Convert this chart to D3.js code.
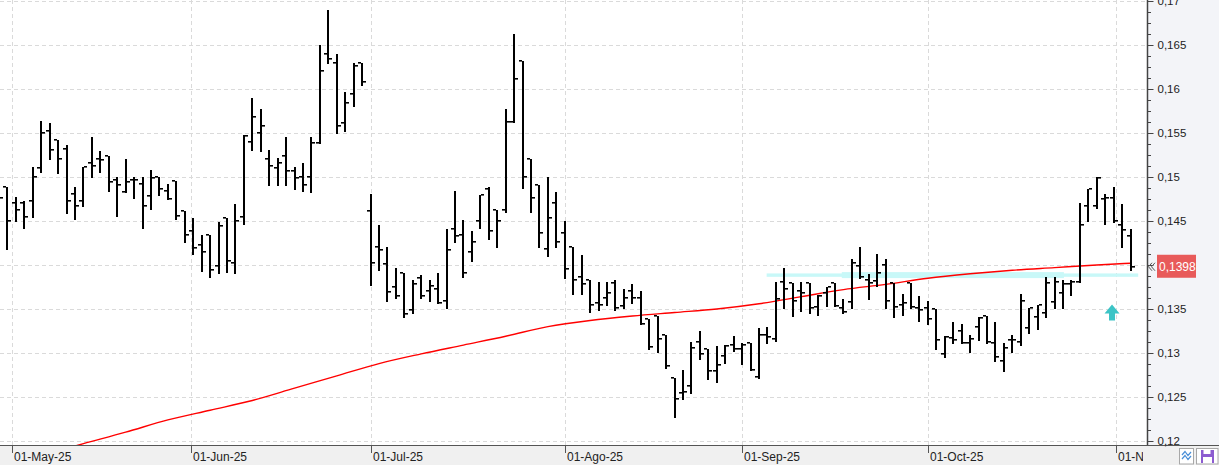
<!DOCTYPE html>
<html>
<head>
<meta charset="utf-8">
<script src="https://cdn.jsdelivr.net/npm/d3@7"></script>
<style>
  body { margin: 0; background: #fff; overflow: hidden; }
  svg { display: block; font-family: "Liberation Sans", Arial, sans-serif; }
</style>
</head>
<body>
<svg width="1219" height="465"></svg>
<script>
// daily OHLC, index 0 = 29-Apr-25 ... index 134 = 04-Nov-25
const opens = [
  .1470,.1489,.1471,.1471,.1473,.1510,.1552,.1542,.1532,.1481,.1473,.1516,.1520,.1524,.1497,.1483,.1497,.1492,.1478,.1500,
  .1484,.1495,.1461,.1439,.1423,.1434,.1399,.1453,.1402,.1455,.1540,.1550,.1520,.1510,.1524,.1507,.1500,.1500,.1539,.1640,
  .1629,.1561,.1594,.1630,.1461,.1420,.1401,.1375,.1391,.1349,.1385,.1370,.1373,.1359,.1441,.1434,.1415,.1450,.1486,.1463,
  .1462,.1563,.1632,.1521,.1491,.1418,.1471,.1436,.1420,.1386,.1383,.1357,.1363,.1380,.1353,.1370,.1363,.1339,.1342,.1320,
  .1272,.1254,.1262,.1312,.1305,.1280,.1297,.1309,.1305,.1311,.1273,.1320,.1316,.1381,.1380,.1371,.1379,.1352,.1368,.1379,
  .1351,.1358,.1399,.1383,.1382,.1400,.1379,.1355,.1379,.1351,.1351,.1350,.1299,.1317,.1325,.1311,.1330,.1342,.1311,.1291,
  .1315,.1313,.1328,.1341,.1346,.1358,.1368,.1378,.1381,.1467,.1467,.1475,.1476,.1445,.1433
];
const highs = [
  .1485,.1489,.1477,.1473,.1511,.1564,.1561,.1542,.1536,.1489,.1511,.1545,.1529,.1524,.1500,.1521,.1500,.1500,.1508,.1500,
  .1492,.1495,.1461,.1453,.1434,.1434,.1449,.1453,.1469,.1548,.1590,.1577,.1531,.1522,.1545,.1511,.1516,.1545,.1650,.1690,
  .1640,.1597,.1630,.1630,.1481,.1445,.1421,.1397,.1391,.1383,.1389,.1383,.1391,.1441,.1484,.1451,.1439,.1479,.1489,.1463,
  .1577,.1662,.1632,.1521,.1491,.1500,.1483,.1450,.1420,.1411,.1383,.1381,.1381,.1383,.1373,.1378,.1370,.1339,.1342,.1320,
  .1272,.1281,.1312,.1325,.1305,.1308,.1309,.1319,.1311,.1311,.1328,.1330,.1381,.1397,.1380,.1381,.1379,.1366,.1375,.1379,
  .1361,.1407,.1420,.1390,.1413,.1407,.1379,.1367,.1379,.1365,.1359,.1350,.1319,.1335,.1333,.1320,.1341,.1342,.1335,.1311,
  .1320,.1367,.1351,.1355,.1386,.1386,.1383,.1383,.1470,.1486,.1500,.1481,.1489,.1469,.1441
];
const lows = [
  .1465,.1418,.1450,.1442,.1454,.1506,.1520,.1504,.1459,.1452,.1467,.1500,.1506,.1484,.1456,.1483,.1476,.1442,.1464,.1480,
  .1475,.1452,.1426,.1412,.1393,.1386,.1391,.1392,.1391,.1447,.1531,.1530,.1491,.1491,.1491,.1486,.1484,.1483,.1539,.1630,
  .1550,.1552,.1581,.1604,.1377,.1394,.1359,.1363,.1341,.1345,.1362,.1359,.1357,.1351,.1426,.1386,.1404,.1442,.1430,.1420,
  .1460,.1563,.1488,.1460,.1420,.1410,.1420,.1385,.1367,.1367,.1347,.1349,.1354,.1349,.1351,.1357,.1333,.1304,.1301,.1283,
  .1227,.1248,.1255,.1293,.1271,.1267,.1289,.1302,.1287,.1281,.1272,.1311,.1314,.1351,.1342,.1348,.1345,.1343,.1353,.1353,
  .1345,.1351,.1385,.1361,.1376,.1351,.1341,.1343,.1351,.1336,.1333,.1305,.1295,.1311,.1311,.1301,.1315,.1311,.1291,.1280,
  .1301,.1309,.1323,.1327,.1341,.1351,.1351,.1366,.1381,.1450,.1465,.1447,.1449,.1420,.1394
];
const closes = [
  .1476,.1450,.1463,.1455,.1500,.1550,.1531,.1520,.1473,.1467,.1511,.1513,.1519,.1494,.1491,.1494,.1497,.1467,.1499,.1486,
  .1475,.1456,.1434,.1419,.1415,.1394,.1444,.1405,.1450,.1547,.1568,.1558,.1513,.1516,.1507,.1499,.1491,.1539,.1620,.1634,
  .1558,.1584,.1626,.1608,.1402,.1417,.1369,.1365,.1344,.1378,.1365,.1376,.1357,.1417,.1433,.1391,.1426,.1479,.1439,.1450,
  .1563,.1611,.1500,.1476,.1436,.1453,.1426,.1395,.1383,.1378,.1355,.1354,.1368,.1351,.1363,.1363,.1333,.1307,.1316,.1285,
  .1248,.1256,.1306,.1299,.1280,.1286,.1308,.1305,.1309,.1281,.1320,.1318,.1361,.1373,.1359,.1368,.1351,.1365,.1375,.1353,
  .1347,.1402,.1386,.1379,.1391,.1359,.1352,.1357,.1352,.1349,.1339,.1315,.1318,.1315,.1311,.1316,.1340,.1312,.1295,.1306,
  .1315,.1359,.1351,.1355,.1380,.1381,.1378,.1381,.1445,.1486,.1499,.1476,.1450,.1440,.1398
];

// moving average (bar index, value)
const maIdx = [0, 10, 15, 20, 25, 30, 35, 40, 45, 50, 55, 60, 65, 70, 75, 80, 85, 90, 95, 100, 105, 110, 115, 120, 125, 130, 134];
const maVals = [.1170,.1197,.1210,.1224,.1235,.1246,.1260,.1274,.1288,.1299,.1309,.1319,.1330,.1337,.1342,.1346,
  .1350,.1356,.1364,.1372,.1378,.1385,.1390,.1394,.1397,.1400,.1402];

// month labels and their place on the bar index axis
const monthLabels = ["01-May-25", "01-Jun-25", "01-Jul-25", "01-Ago-25", "01-Sep-25", "01-Oct-25", "01-Nov-25"];
const monthPos = [1.55, 22.75, 44, 67, 88, 110, 132.33];

// support level drawn in light cyan
const levelVal = 0.13885;
const levelThin = [90.9, 134.9];
const levelThick = [99.8, 126.1];

// buy signal arrow
const signalIdx = 131.8, signalVal = 0.1355;

const width = 1219, height = 465;
const plotW = 1147, plotH = 445;

const x = d3.scaleLinear().domain([0, 134]).range([-1, 1130.6]);
const y = d3.scaleLinear().domain([0.12, 0.17]).range([441, 1]);

const loc = d3.formatLocale({decimal: ",", thousands: ".", grouping: [3], currency: ["", ""]});
const fmtTick = loc.format(".3~f");
const fmtPrice = loc.format(".4f");

const svg = d3.select("svg");

svg.append("rect").attr("width", width).attr("height", height).attr("fill", "#fff");
svg.append("rect").attr("x", plotW).attr("y", 0).attr("width", width - plotW).attr("height", plotH)
  .attr("fill", "#f3f4f8");
svg.append("rect").attr("x", 0).attr("y", plotH).attr("width", width).attr("height", height - plotH)
  .attr("fill", "#f0f0f0");

svg.append("clipPath").attr("id", "plot")
  .append("rect").attr("width", plotW).attr("height", plotH);

const plot = svg.append("g").attr("clip-path", "url(#plot)");

// grid
const majors = d3.range(0.12, 0.17001, 0.005);
plot.append("g").selectAll("line")
  .data(majors)
  .join("line")
    .attr("x1", 0).attr("x2", plotW)
    .attr("y1", d => Math.round(y(d)) + 0.5).attr("y2", d => Math.round(y(d)) + 0.5)
    .attr("stroke", "#dadada").attr("stroke-dasharray", "4,3");
plot.append("g").selectAll("line")
  .data(monthPos)
  .join("line")
    .attr("x1", d => Math.round(x(d)) + 0.5).attr("x2", d => Math.round(x(d)) + 0.5)
    .attr("y1", 0).attr("y2", plotH)
    .attr("stroke", "#dadada").attr("stroke-dasharray", "4,3");

// support band
plot.append("rect")
  .attr("x", x(levelThin[0])).attr("width", x(levelThin[1]) - x(levelThin[0]))
  .attr("y", y(levelVal) - 1.7).attr("height", 3.4)
  .attr("fill", "#c8f8f8");
plot.append("rect")
  .attr("x", x(levelThick[0])).attr("width", x(levelThick[1]) - x(levelThick[0]))
  .attr("y", y(levelVal) - 3).attr("height", 6)
  .attr("fill", "#c8f8f8");

// moving average
plot.append("path")
  .datum(maIdx.map((d, i) => [d, maVals[i]]))
  .attr("fill", "none")
  .attr("stroke", "#f00")
  .attr("stroke-width", 1.4)
  .attr("d", d3.line().curve(d3.curveMonotoneX).x(d => x(d[0])).y(d => y(d[1])));

// OHLC bars
const bars = plot.append("g").attr("fill", "#000")
  .selectAll("g")
  .data(d3.range(opens.length))
  .join("g");
const bx = i => Math.round(x(i));
bars.append("rect")
  .attr("x", i => bx(i) - 1).attr("width", 2)
  .attr("y", i => Math.round(y(highs[i])))
  .attr("height", i => Math.max(2, Math.round(y(lows[i])) - Math.round(y(highs[i])) + 1));
bars.append("rect")
  .attr("x", i => bx(i) - 4).attr("width", 3)
  .attr("y", i => Math.round(y(opens[i])) - 1).attr("height", 1.6);
bars.append("rect")
  .attr("x", i => bx(i) + 1).attr("width", 3)
  .attr("y", i => Math.round(y(closes[i])) - 1).attr("height", 1.6);

// signal arrow
const ax = x(signalIdx), ay = y(signalVal);
plot.append("path")
  .attr("d", `M${ax},${ay}L${ax + 7.5},${ay + 9}L${ax + 3},${ay + 9}L${ax + 3},${ay + 16}` +
             `L${ax - 3},${ay + 16}L${ax - 3},${ay + 9}L${ax - 7.5},${ay + 9}Z`)
  .attr("fill", "#3cc4c6");

// x axis
svg.append("line")
  .attr("x1", 0).attr("x2", width).attr("y1", plotH + 0.5).attr("y2", plotH + 0.5)
  .attr("stroke", "#555");
svg.append("clipPath").attr("id", "xlab")
  .append("rect").attr("x", 0).attr("y", plotH).attr("width", plotW - 4).attr("height", height - plotH);
const xTicks = svg.append("g").attr("clip-path", "url(#xlab)");
xTicks.selectAll("line")
  .data(monthPos)
  .join("line")
    .attr("x1", d => Math.round(x(d)) + 0.5).attr("x2", d => Math.round(x(d)) + 0.5)
    .attr("y1", plotH).attr("y2", plotH + 8)
    .attr("stroke", "#555");
xTicks.selectAll("text")
  .data(monthPos)
  .join("text")
    .attr("x", d => Math.round(x(d)) + 2)
    .attr("y", 461)
    .attr("font-size", 12)
    .attr("fill", "#222")
    .text((d, i) => monthLabels[i]);

// y axis (labels hidden where the last-price box sits)
const last = closes[closes.length - 1];
const ly = y(last);
const yAxis = svg.append("g")
  .attr("transform", `translate(${plotW + 0.5},0)`)
  .call(d3.axisRight(y).tickValues(majors).tickSize(6).tickPadding(4).tickFormat(fmtTick));
yAxis.select(".domain").remove();
yAxis.selectAll(".tick line").attr("stroke", "#444");
yAxis.selectAll(".tick text")
  .attr("font-family", "'Liberation Sans', Arial, sans-serif")
  .attr("font-size", 11.5).attr("fill", "#222")
  .attr("display", d => Math.abs(y(d) - ly) < 14 ? "none" : null);
svg.append("g").selectAll("line")
  .data(d3.range(0.12, 0.17001, 0.00125))
  .join("line")
    .attr("x1", plotW).attr("x2", plotW + 4)
    .attr("y1", d => Math.round(y(d)) + 0.5).attr("y2", d => Math.round(y(d)) + 0.5)
    .attr("stroke", "#444");
svg.append("line")
  .attr("x1", plotW + 0.5).attr("x2", plotW + 0.5).attr("y1", 0).attr("y2", plotH)
  .attr("stroke", "#444").attr("stroke-width", 1.5);

// last price marker
svg.append("path")
  .attr("d", `M${plotW + 5},${ly - 4}L${plotW + 1.5},${ly}L${plotW + 5},${ly + 4}` +
             `M${plotW + 8},${ly - 4}L${plotW + 4.5},${ly}L${plotW + 8},${ly + 4}`)
  .attr("fill", "none").attr("stroke", "#555").attr("stroke-width", 1);
svg.append("rect")
  .attr("x", plotW + 10).attr("y", ly - 12).attr("width", 39).attr("height", 23)
  .attr("fill", "#e85a5a");
svg.append("text")
  .attr("x", plotW + 12).attr("y", ly)
  .attr("dy", "0.35em")
  .attr("font-size", 12).attr("fill", "#fff")
  .text(fmtPrice(last));

// corner buttons
const btn = svg.append("g");
btn.append("rect").attr("x", 1179.5).attr("y", 448.5).attr("width", 14).attr("height", 15.5)
  .attr("fill", "#fff").attr("stroke", "#a8a8a8");
btn.append("path")
  .attr("d", "M1182,455L1185,451.5L1188,455.5L1191,452M1182,459L1185,455.5L1188,459.5L1191,456")
  .attr("fill", "none").attr("stroke", "#4a8fd8").attr("stroke-width", 1.2);
btn.append("rect").attr("x", 1196.5).attr("y", 448.5).attr("width", 21.5).attr("height", 15.5)
  .attr("fill", "#fff").attr("stroke", "#a8a8a8");
btn.append("rect").attr("x", 1201).attr("y", 450).attr("width", 13).attr("height", 13)
  .attr("fill", "#8c5cd0");
btn.append("rect").attr("x", 1203.5).attr("y", 450).attr("width", 7).attr("height", 4)
  .attr("fill", "#fff");
btn.append("rect").attr("x", 1203).attr("y", 457).attr("width", 9).attr("height", 6)
  .attr("fill", "#fff");
</script>
</body>
</html>
